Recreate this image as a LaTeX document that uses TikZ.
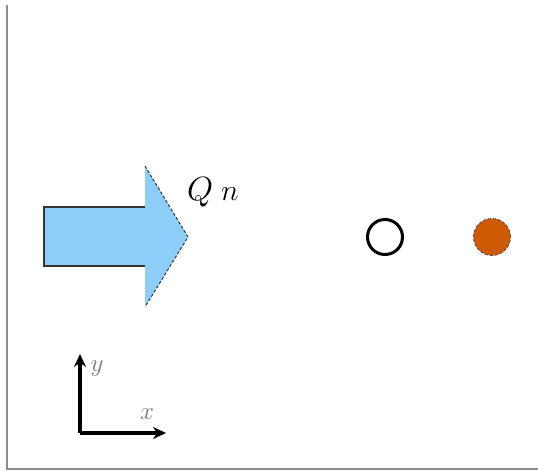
\documentclass[tikz,border=0pt]{standalone}
\usepackage{graphicx}
\usetikzlibrary{arrows.meta}
\definecolor{arrowblue}{RGB}{140,206,247}
\definecolor{dotorange}{RGB}{206,90,6}
\definecolor{framegray}{RGB}{140,140,140}
\definecolor{labelgray}{RGB}{120,120,120}
\tikzset{
  axisline/.style={line width=3.4pt, -{Stealth[length=13pt,width=12pt]}},
  axislabel/.style={text=labelgray, font=\LARGE, inner sep=0pt},
}
\begin{document}
\begin{tikzpicture}[x=1pt,y=-1pt]
\useasboundingbox (0,0) rectangle (538,471);
% frame
\draw[framegray, line width=2pt] (7,5) -- (7,469) -- (538,469);
% big arrow
\fill[arrowblue] (44,207) -- (145,207) -- (145,166) -- (188,237) -- (145,307) -- (145,266) -- (44,266) -- cycle;
\draw[black!80, line width=1.2pt] (145,207) -- (44,207) -- (44,266) -- (145,266);
\draw[black!80, line width=1pt, densely dashed] (145,166) -- (188,237) -- (145,307);
\node[anchor=base west, inner sep=0pt, font=\Huge] (q) at (187,200) {\scalebox{1.35}{$Q$}\hspace{8pt}\scalebox{1.2}{$n$}};
% particles
\node[circle, draw=black, line width=3pt, minimum size=35pt, inner sep=0pt] (open) at (385,237) {};
\node[circle, fill=dotorange, draw=black!70, densely dashed, line width=0.8pt, minimum size=37pt, inner sep=0pt] (full) at (492,237) {};
% axes
\coordinate (o) at (80,433);
\coordinate (yend) at (80,354);
\coordinate (xend) at (166,433);
\draw[axisline] (o) -- (yend);
\draw[axisline] (o.center) -- (xend);
\node[axislabel] (ylab) at (97,369) {\scalebox{1.45}{$y$}};
\node[axislabel] (xlab) at (147,414) {\scalebox{1.45}{$x$}};
\end{tikzpicture}
\end{document}
